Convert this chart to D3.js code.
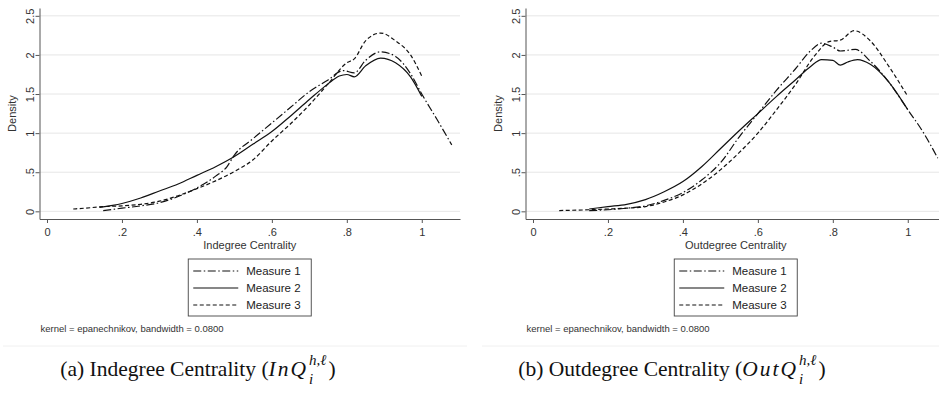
<!DOCTYPE html>
<html>
<head>
<meta charset="utf-8">
<script src="https://cdn.jsdelivr.net/npm/d3@7"></script>
<style>
  body { margin: 0; background: #fff; }
  svg { display: block; }
  .tick text { font-family: "Liberation Sans", Arial, sans-serif; }
</style>
</head>
<body>
<svg width="939" height="403"></svg>
<script>
// ---- datos ----
const xTicks = [0, 0.2, 0.4, 0.6, 0.8, 1];
const xTickLabels = ["0", ".2", ".4", ".6", ".8", "1"];
const yTicks = [0, 0.5, 1, 1.5, 2, 2.5];
const yTickLabels = ["0", ".5", "1", "1.5", "2", "2.5"];
const measures = ["Measure 1", "Measure 2", "Measure 3"];

// panel (a) indegree: [x, densidad]
const inM1 = [[0.15,0.01],[0.2,0.04],[0.25,0.07],[0.3,0.11],[0.35,0.19],[0.4,0.30],[0.45,0.45],[0.48,0.57],[0.5,0.72],[0.55,0.93],[0.6,1.13],[0.65,1.33],[0.7,1.53],[0.75,1.68],[0.79,1.80],[0.82,1.77],[0.85,1.93],[0.89,2.04],[0.93,1.98],[0.97,1.76],[1.0,1.50],[1.04,1.18],[1.08,0.85]];
const inM2 = [[0.14,0.05],[0.2,0.10],[0.25,0.17],[0.3,0.26],[0.35,0.35],[0.4,0.46],[0.45,0.57],[0.5,0.70],[0.55,0.86],[0.6,1.02],[0.65,1.22],[0.7,1.43],[0.75,1.63],[0.78,1.73],[0.8,1.75],[0.82,1.72],[0.85,1.86],[0.89,1.96],[0.93,1.90],[0.97,1.72],[1.0,1.47]];
const inM3 = [[0.07,0.03],[0.1,0.04],[0.15,0.06],[0.2,0.07],[0.25,0.09],[0.3,0.13],[0.35,0.20],[0.4,0.29],[0.45,0.39],[0.5,0.51],[0.55,0.66],[0.6,0.90],[0.65,1.12],[0.7,1.36],[0.75,1.63],[0.8,1.90],[0.82,1.95],[0.85,2.18],[0.89,2.28],[0.93,2.18],[0.97,2.00],[1.0,1.73]];

// panel (b) outdegree
const outM1 = [[0.15,0.01],[0.2,0.02],[0.25,0.04],[0.3,0.07],[0.35,0.14],[0.4,0.24],[0.45,0.40],[0.5,0.62],[0.55,0.95],[0.6,1.25],[0.65,1.55],[0.7,1.82],[0.74,2.05],[0.77,2.15],[0.8,2.10],[0.82,2.05],[0.86,2.07],[0.9,1.92],[0.95,1.65],[1.0,1.30],[1.04,1.02],[1.08,0.68]];
const outM2 = [[0.15,0.03],[0.2,0.06],[0.25,0.09],[0.3,0.15],[0.35,0.25],[0.4,0.38],[0.45,0.57],[0.5,0.80],[0.55,1.03],[0.6,1.25],[0.65,1.47],[0.7,1.68],[0.74,1.85],[0.77,1.94],[0.8,1.93],[0.82,1.87],[0.84,1.91],[0.866,1.94],[0.9,1.88],[0.95,1.65],[1.0,1.30]];
const outM3 = [[0.07,0.01],[0.15,0.02],[0.2,0.03],[0.25,0.04],[0.3,0.06],[0.35,0.12],[0.4,0.21],[0.45,0.35],[0.5,0.53],[0.55,0.75],[0.6,1.00],[0.65,1.30],[0.7,1.62],[0.75,1.98],[0.79,2.17],[0.82,2.19],[0.857,2.31],[0.9,2.18],[0.95,1.85],[1.0,1.47]];

const svg = d3.select("svg");
const sans = "'Liberation Sans', Arial, sans-serif";
const serif = "'Liberation Serif', 'Times New Roman', serif";
const dashes = ["8,2.5,1.5,2.5", null, "4,2.5"];

function drawPanel(ox, series, xTitle, capLetter, capWord, capMath, capCenter) {
  const g = svg.append("g");
  const x0 = 39.5 + ox, x1 = 460 + ox;
  const x = d3.scaleLinear().domain([-0.02, 1.102]).range([x0, x1]);
  const y = d3.scaleLinear().domain([-0.098, 2.6]).range([219, 8]);

  // rejilla
  g.append("g").selectAll("line").data(yTicks).enter().append("line")
    .attr("x1", x0).attr("x2", x1)
    .attr("y1", d => y(d)).attr("y2", d => y(d))
    .attr("stroke", "#e6e6e6").attr("stroke-width", 1);

  // ejes
  const xAxis = g.append("g").attr("transform", `translate(0,${y.range()[0]})`)
    .call(d3.axisBottom(x).tickValues(xTicks).tickFormat((d, i) => xTickLabels[i]).tickSize(4).tickSizeOuter(0));
  const yAxis = g.append("g").attr("transform", `translate(${x0},0)`)
    .call(d3.axisLeft(y).tickValues(yTicks).tickFormat((d, i) => yTickLabels[i]).tickSize(4).tickSizeOuter(0));
  [xAxis, yAxis].forEach(a => {
    a.select(".domain").attr("stroke", "#555");
    a.selectAll(".tick line").attr("stroke", "#555");
    a.selectAll(".tick text").attr("fill", "#333").style("font-size", "11px");
  });
  xAxis.selectAll(".tick text").attr("dy", "0.9em");
  yAxis.selectAll(".tick text")
    .attr("x", 0).attr("y", 0)
    .attr("dx", 0).attr("dy", 0)
    .attr("text-anchor", "middle")
    .attr("transform", "translate(-6,0) rotate(-90)");

  g.append("text").attr("transform", `translate(${x0 - 24},${(y(0) + y(2.5)) / 2}) rotate(-90)`)
    .attr("text-anchor", "middle").attr("font-family", sans).attr("font-size", 11)
    .attr("fill", "#333").text("Density");

  g.append("text").attr("x", (x0 + x1) / 2).attr("y", 249)
    .attr("text-anchor", "middle").attr("font-family", sans).attr("font-size", 11)
    .attr("fill", "#333").text(xTitle);

  // curvas
  const line = d3.line().x(d => x(d[0])).y(d => y(d[1])).curve(d3.curveMonotoneX);
  series.forEach((s, i) => {
    g.append("path").datum(s).attr("d", line)
      .attr("fill", "none").attr("stroke", "#111").attr("stroke-width", 1.2)
      .attr("stroke-dasharray", dashes[i]);
  });

  // leyenda
  const lx = (x0 + x1) / 2 - 61.5;
  const leg = g.append("g").attr("transform", `translate(${lx},259)`);
  leg.append("rect").attr("width", 123).attr("height", 57)
    .attr("fill", "#fff").attr("stroke", "#444").attr("stroke-width", 0.9);
  measures.forEach((m, i) => {
    const yy = 12 + i * 17;
    leg.append("line").attr("x1", 5).attr("x2", 50).attr("y1", yy).attr("y2", yy)
      .attr("stroke", "#111").attr("stroke-width", 1.1).attr("stroke-dasharray", dashes[i]);
    leg.append("text").attr("x", 58).attr("y", yy + 4)
      .attr("font-family", sans).attr("font-size", 11.5).attr("fill", "#222").text(m);
  });

  g.append("text").attr("x", x0 + 1).attr("y", 332)
    .attr("font-family", sans).attr("font-size", 9.5).attr("fill", "#333")
    .text("kernel = epanechnikov, bandwidth = 0.0800");

  g.append("line").attr("x1", ox + (ox ? -4 : 3)).attr("x2", ox + 467).attr("y1", 346).attr("y2", 346)
    .attr("stroke", "#f0f0f0");

  // pie de figura
  const cap = g.append("g");
  const base = 376;
  const t = cap.append("text").attr("y", base).attr("font-family", serif).attr("font-size", 21.5).attr("fill", "#111");
  t.append("tspan").text(`(${capLetter}) ${capWord} Centrality (`);
  t.append("tspan").attr("font-style", "italic").attr("letter-spacing", 2).text(capMath);
  const w = t.node().getComputedTextLength();
  cap.append("text").attr("x", w + 1).attr("y", base + 8).attr("font-family", serif)
    .attr("font-style", "italic").attr("font-size", 15).attr("fill", "#111").text("i");
  const sup = cap.append("text").attr("x", w + 1).attr("y", base - 11).attr("font-family", serif)
    .attr("font-style", "italic").attr("font-size", 15).attr("fill", "#111").text("h,ℓ");
  const sw = sup.node().getComputedTextLength();
  const close = cap.append("text").attr("x", w + sw + 3).attr("y", base).attr("font-family", serif)
    .attr("font-size", 21.5).attr("fill", "#111").text(")");
  const total = w + sw + 3 + close.node().getComputedTextLength();
  cap.attr("transform", `translate(${capCenter - total / 2},0)`);
}

drawPanel(0, [inM1, inM2, inM3], "Indegree Centrality", "a", "Indegree", "InQ", 198);
drawPanel(486, [outM1, outM2, outM3], "Outdegree Centrality", "b", "Outdegree", "OutQ", 672);
</script>
</body>
</html>
